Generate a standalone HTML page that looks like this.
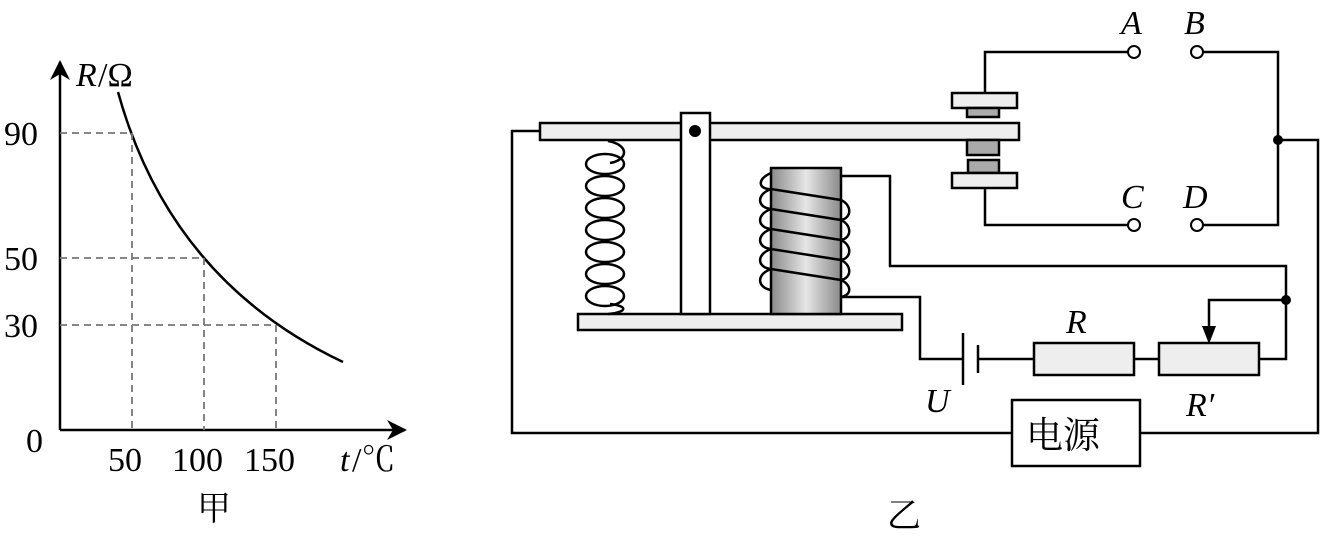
<!DOCTYPE html>
<html><head><meta charset="utf-8"><style>
html,body{margin:0;padding:0;background:#fff;}
svg{display:block}
text{font-family:"Liberation Serif","Noto Serif CJK SC",serif;font-size:34px;fill:#000}
.i{font-style:italic}
</style></head><body>
<svg width="1328" height="537" viewBox="0 0 1328 537" xmlns="http://www.w3.org/2000/svg">
<defs>
<linearGradient id="g" x1="0" x2="1" y1="0" y2="0">
<stop offset="0" stop-color="#8a8a8a"/><stop offset="0.5" stop-color="#e6e6e6"/><stop offset="1" stop-color="#8a8a8a"/>
</linearGradient>
<marker id="ar" viewBox="0 0 10 10" refX="9" refY="5" markerWidth="8" markerHeight="8" orient="auto"><path d="M0,0L10,5L0,10L3,5z" fill="#000"/></marker>
</defs>
<g stroke="#000" stroke-width="2.5" fill="none">
<line x1="60" y1="430" x2="60" y2="62" marker-end="url(#ar)"/>
<line x1="60" y1="430" x2="405" y2="430" marker-end="url(#ar)"/>
<path d="M118,92 Q170,280 343,362"/>
</g>
<g stroke="#777" stroke-width="1.8" stroke-dasharray="7,5" fill="none">
<path d="M60,133H132V430M60,258H204V430M60,325H276V430"/>
</g>
<text x="76" y="86" class="i">R</text><text x="98" y="86">/Ω</text>
<text x="4" y="145">90</text><text x="4" y="270">50</text><text x="4" y="337">30</text>
<text x="26" y="452">0</text>
<text x="108" y="471">50</text><text x="172" y="471">100</text><text x="244" y="471">150</text>
<text x="340" y="471" class="i">t</text><text x="352" y="471">/℃</text>
<text x="197" y="520">甲</text>
<text x="887" y="527">乙</text>
<g stroke="#000" stroke-width="2.5" fill="none">
<path d="M540,131H512V433H1012M1140,433H1318V140H1278"/>
<path d="M985,93V52H1128M1203,52H1278V225H1203M985,188V225H1128"/>
<path d="M841,176H890V266H1286V359H1259M1159,359H1134M1034,359H978M963,359H920V297H841"/>
<path d="M1286,300H1209V335"/>
<line x1="963" y1="333" x2="963" y2="385"/><line x1="978" y1="345" x2="978" y2="373"/>
</g>
<path d="M1202,326L1209,344L1216,326z" fill="#000"/>
<circle cx="1278" cy="140" r="5" fill="#000"/><circle cx="1286" cy="300" r="5" fill="#000"/>
<g stroke="#000" stroke-width="2" fill="#fff">
<circle cx="1134" cy="52" r="6"/><circle cx="1197" cy="52" r="6"/>
<circle cx="1134" cy="225" r="6"/><circle cx="1197" cy="225" r="6"/>
</g>
<g stroke="#000" stroke-width="2.5">
<rect x="540" y="123" width="479" height="17" fill="#eee"/>
<rect x="578" y="314" width="324" height="16" fill="#eee"/>
<rect x="681" y="113" width="29" height="201" fill="#fff"/>
<rect x="952" y="93" width="65" height="15" fill="#eee"/>
<rect x="967" y="108" width="32" height="9" fill="#aaa"/>
<rect x="967" y="140" width="32" height="15" fill="#aaa"/>
<rect x="968" y="160" width="31" height="13" fill="#aaa"/>
<rect x="952" y="173" width="65" height="15" fill="#eee"/>
<rect x="771" y="168" width="70" height="146" fill="url(#g)"/>
<rect x="1034" y="343" width="100" height="32" fill="#eee"/>
<rect x="1159" y="343" width="100" height="32" fill="#eee"/>
<rect x="1012" y="400" width="128" height="66" fill="#fff"/>
</g>
<circle cx="695" cy="131" r="6" fill="#000"/>
<g stroke="#000" stroke-width="2.5" fill="none">
<path d="M608,141C630,145 628,160 610,163"/>
<ellipse cx="605" cy="164" rx="19" ry="10"/><ellipse cx="605" cy="186" rx="19" ry="10"/>
<ellipse cx="605" cy="208" rx="19" ry="10"/><ellipse cx="605" cy="230" rx="19" ry="10"/>
<ellipse cx="605" cy="252" rx="19" ry="10"/><ellipse cx="605" cy="274" rx="19" ry="10"/>
<ellipse cx="605" cy="296" rx="19" ry="10"/>
<path d="M610,304C628,306 628,312 608,314"/>
<path d="M771,173C755,180 760,190 771,189L841,200C852,205 852,218 841,220"/>
<path d="M771,189C755,195 758,208 771,209L841,220C852,225 852,238 841,240"/>
<path d="M771,209C755,215 758,228 771,229L841,240C852,245 852,258 841,260"/>
<path d="M771,229C755,235 758,248 771,249L841,260C852,265 852,278 841,280"/>
<path d="M771,249C755,255 758,268 771,269L841,280C852,285 852,295 841,297"/>
<path d="M771,269C755,275 758,288 771,290"/>
</g>
<text x="1121" y="34" class="i">A</text><text x="1184" y="34" class="i">B</text>
<text x="1121" y="208" class="i">C</text><text x="1183" y="208" class="i">D</text>
<text x="1066" y="333" class="i">R</text>
<text x="1186" y="416" class="i">R′</text>
<text x="925" y="412" class="i">U</text>
<text x="1026" y="448" style="font-size:37px">电源</text>
</svg>
</body></html>
